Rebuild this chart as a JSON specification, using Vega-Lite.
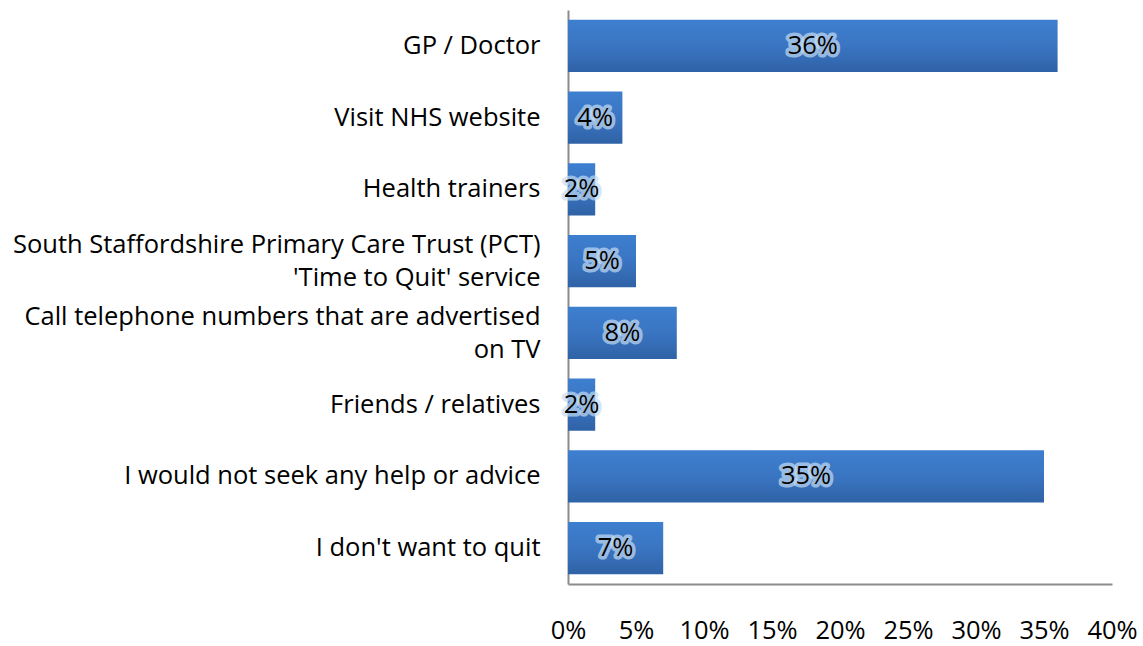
{
  "$schema": "https://vega.github.io/schema/vega-lite/v6.json",
  "width": 544,
  "height": 574,
  "autosize": {"type": "none"},
  "padding": {"left": 568, "top": 10, "right": 31, "bottom": 62},
  "background": "white",
  "config": {
    "view": {"stroke": null},
    "font": "Open Sans",
    "axis": {"labelFont": "Open Sans", "labelFontSize": 25.5, "labelColor": "#000000", "grid": false, "ticks": false, "domainColor": "#8c8c8c", "domainWidth": 2, "title": null}
  },
  "data": {
    "values": [
      {"cat": "GP / Doctor", "v": 0.36, "label": "36%"},
      {"cat": "Visit NHS website", "v": 0.04, "label": "4%"},
      {"cat": "Health trainers", "v": 0.02, "label": "2%"},
      {"cat": "South Staffordshire Primary Care Trust (PCT)|'Time to Quit' service", "v": 0.05, "label": "5%"},
      {"cat": "Call telephone numbers that are advertised|on TV", "v": 0.08, "label": "8%"},
      {"cat": "Friends / relatives", "v": 0.02, "label": "2%"},
      {"cat": "I would not seek any help or advice", "v": 0.35, "label": "35%"},
      {"cat": "I don't want to quit", "v": 0.07, "label": "7%"}
    ]
  },
  "transform": [{"calculate": "datum.v / 2", "as": "mid"}],
  "encoding": {
    "y": {
      "field": "cat", "type": "nominal", "sort": null,
      "scale": {"paddingInner": 0.27, "paddingOuter": 0.135},
      "axis": {
        "labelExpr": "split(datum.label, '|')", "labelPadding": 28, "labelLineHeight": 33, "labelLimit": 600, "labelAlign": "right",
        "labelOffset": {"condition": {"test": "indexof(datum.value, '|') >= 0", "value": -16}, "value": 0}
      }
    }
  },
  "layer": [
    {
      "mark": {"type": "bar", "color": {"gradient": "linear", "x1": 0, "y1": 0, "x2": 0, "y2": 1, "stops": [{"offset": 0, "color": "#3d7fcf"}, {"offset": 0.5, "color": "#3a75c2"}, {"offset": 1, "color": "#2f62a6"}]}},
      "encoding": {
        "x": {"field": "v", "type": "quantitative", "scale": {"domain": [0, 0.4]},
          "axis": {"format": ".0%", "values": [0, 0.05, 0.1, 0.15, 0.2, 0.25, 0.3, 0.35, 0.4], "labelPadding": 34, "labelFlush": false}}
      }
    },
    {
      "mark": {"type": "text", "fontSize": 25.5, "font": "Open Sans", "stroke": "#c4dcf2", "strokeWidth": 7, "strokeOpacity": 0.7, "strokeJoin": "round", "color": "#c4dcf2"},
      "encoding": {"x": {"field": "mid", "type": "quantitative"}, "text": {"field": "label"}}
    },
    {
      "mark": {"type": "text", "fontSize": 25.5, "font": "Open Sans", "color": "#000000"},
      "encoding": {"x": {"field": "mid", "type": "quantitative"}, "text": {"field": "label"}}
    }
  ]
}
